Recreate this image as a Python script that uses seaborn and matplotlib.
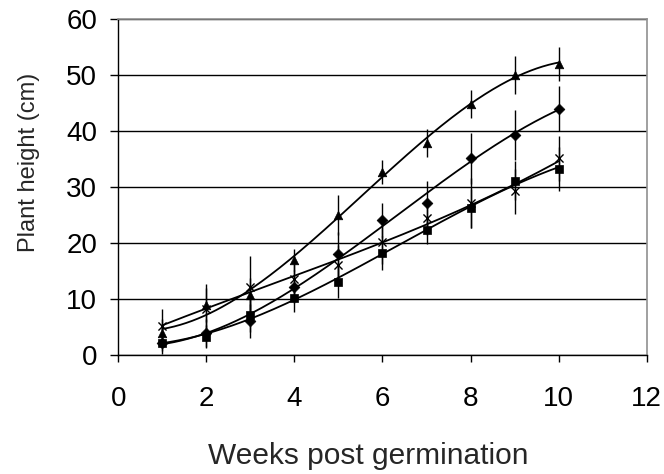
import numpy as np
import pandas as pd
import matplotlib
matplotlib.use("Agg")
import matplotlib.pyplot as plt
import seaborn as sns

# Datos
weeks = [1, 2, 3, 4, 5, 6, 7, 8, 9, 10]
triangle = [4.0, 8.9, 10.7, 17.0, 25.0, 32.7, 37.8, 44.9, 50.0, 52.0]
diamond = [2.2, 4.0, 6.1, 12.2, 18.0, 24.1, 27.1, 35.1, 39.3, 44.0]
cross = [5.2, 8.2, 12.2, 13.6, 16.1, 20.2, 24.4, 27.1, 29.2, 35.1]
square = [2.2, 3.3, 7.1, 10.2, 13.1, 18.2, 22.3, 26.2, 31.1, 33.2]

triangle_err = [2.5, 3.0, 3.0, 2.0, 3.6, 2.2, 2.5, 2.5, 3.4, 3.0]
diamond_err = [2.0, 2.5, 3.0, 3.0, 4.0, 3.0, 4.0, 4.5, 4.5, 4.0]
cross_err = [3.0, 4.5, 5.5, 3.0, 3.5, 4.0, 3.0, 4.5, 4.0, 4.0]
square_err = [1.5, 2.0, 3.0, 2.5, 3.0, 3.0, 2.5, 3.5, 3.5, 4.0]

series = [
    ("triangle", triangle, triangle_err, "^"),
    ("diamond", diamond, diamond_err, "D"),
    ("cross", cross, cross_err, "x"),
    ("square", square, square_err, "s"),
]

sns.set_style("white")
plt.rcParams["font.family"] = ["Liberation Sans", "DejaVu Sans"]

fig = plt.figure(figsize=(6.64, 4.74), dpi=100)
ax = fig.add_axes([0.178, 0.251, 0.796, 0.709])

# Lineas de tendencia (polinomio de orden 3)
xs = np.linspace(1, 10, 200)
for name, vals, err, mk in series:
    coef = np.polyfit(weeks, vals, 3)
    fit = pd.DataFrame({"x": xs, "y": np.polyval(coef, xs)})
    sns.lineplot(data=fit, x="x", y="y", ax=ax, color="black", lw=1.3, zorder=4)
    ax.errorbar(weeks, vals, yerr=err, fmt="none", ecolor="black",
                elinewidth=1.0, capsize=0, zorder=3)
    df = pd.DataFrame({"x": weeks, "y": vals})
    if mk == "x":
        sns.scatterplot(data=df, x="x", y="y", ax=ax, marker="x", color="black",
                        s=34, linewidth=1.0, zorder=5)
    else:
        sz = 30 if mk == "D" else 38
        sns.scatterplot(data=df, x="x", y="y", ax=ax, marker=mk, color="black",
                        s=sz, edgecolor="black", linewidth=0.5, zorder=5)

ax.set_xlim(0, 12)
ax.set_ylim(0, 60)
ax.set_xticks([0, 2, 4, 6, 8, 10, 12])
ax.set_yticks([0, 10, 20, 30, 40, 50, 60])
ax.yaxis.grid(True, color="black", lw=1.0)
ax.set_axisbelow(True)

for s in ["top", "right"]:
    ax.spines[s].set_color("#909090")
    ax.spines[s].set_linewidth(1.2)
for s in ["left", "bottom"]:
    ax.spines[s].set_color("black")
    ax.spines[s].set_linewidth(1.0)

ax.tick_params(axis="x", direction="out", length=5, width=1, pad=17,
               labelsize=20, bottom=True, colors="black")
ax.tick_params(axis="y", direction="out", length=6, width=1, pad=9,
               labelsize=20, left=True, colors="black")

ax.set_xlabel("Weeks post germination", fontsize=21.5)
ax.set_ylabel("Plant height (cm)", fontsize=17)
ax.xaxis.set_label_coords(0.474, -0.259)
ax.yaxis.set_label_coords(-0.147, 0.574)

plt.savefig("out.png", dpi=100)
